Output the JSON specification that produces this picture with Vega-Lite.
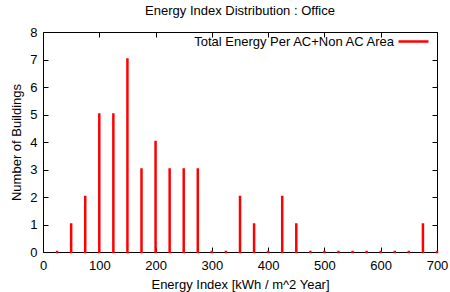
{
  "$schema": "https://vega.github.io/schema/vega-lite/v6.json",
  "width": 394,
  "height": 220,
  "autosize": {"type": "none"},
  "padding": {"left": 43, "top": 32, "right": 13, "bottom": 40},
  "background": "white",
  "title": {"text": "Energy Index Distribution : Office", "font": "Liberation Sans", "fontSize": 13, "fontWeight": "normal", "color": "#000", "offset": 7},
  "config": {
    "view": {"stroke": "#000", "strokeWidth": 1},
    "axis": {"labelFont": "Liberation Sans", "titleFont": "Liberation Sans", "labelFontSize": 13, "titleFontSize": 13, "titleFontWeight": "normal", "labelColor": "#000", "titleColor": "#000", "domain": false, "grid": false, "tickColor": "#000", "tickSize": -5, "labelFlush": false}
  },
  "data": {"values": [
    {"energy": 25, "count": 0},
    {"energy": 50, "count": 1},
    {"energy": 75, "count": 2},
    {"energy": 100, "count": 5},
    {"energy": 125, "count": 5},
    {"energy": 150, "count": 7},
    {"energy": 175, "count": 3},
    {"energy": 200, "count": 4},
    {"energy": 225, "count": 3},
    {"energy": 250, "count": 3},
    {"energy": 275, "count": 3},
    {"energy": 300, "count": 0},
    {"energy": 325, "count": 0},
    {"energy": 350, "count": 2},
    {"energy": 375, "count": 1},
    {"energy": 400, "count": 0},
    {"energy": 425, "count": 2},
    {"energy": 450, "count": 1},
    {"energy": 475, "count": 0},
    {"energy": 500, "count": 0},
    {"energy": 525, "count": 0},
    {"energy": 550, "count": 0},
    {"energy": 575, "count": 0},
    {"energy": 600, "count": 0},
    {"energy": 625, "count": 0},
    {"energy": 650, "count": 0},
    {"energy": 675, "count": 1},
    {"energy": 700, "count": 0}
  ]},
  "layer": [
    {
      "mark": {"type": "rule", "strokeWidth": 2.5, "strokeCap": "square"},
      "encoding": {
        "x": {"field": "energy", "type": "quantitative", "scale": {"domain": [0, 700], "nice": false, "padding": 0}, "axis": {"title": "Energy Index  [kWh / m^2 Year]", "values": [0,100,200,300,400,500,600,700], "labelPadding": 12, "titlePadding": 6}},
        "y": {"field": "count", "type": "quantitative", "scale": {"domain": [0, 8], "nice": false, "padding": 0}, "axis": {"title": "Number of Buildings", "values": [0,1,2,3,4,5,6,7,8], "labelPadding": 11, "titlePadding": 6}},
        "y2": {"datum": 0},
        "color": {"datum": "Total Energy Per AC+Non AC Area", "type": "nominal", "scale": {"range": ["#ff0000"]},
          "legend": {"title": null, "orient": "none", "legendX": 354, "legendY": -7, "symbolType": "stroke", "symbolSize": 900, "symbolStrokeWidth": 2.5, "labelFont": "Liberation Sans", "labelFontSize": 13, "labelColor": "#000", "labelAlign": "right", "labelOffset": -36, "labelLimit": 0, "padding": 0}}
      }
    },
    {
      "mark": {"type": "rule", "opacity": 0},
      "encoding": {
        "x": {"field": "energy", "type": "quantitative", "scale": {"domain": [0, 700], "nice": false, "padding": 0}, "axis": {"orient": "top", "labels": false, "title": null, "values": [0,100,200,300,400,500,600,700]}},
        "y": {"field": "count", "type": "quantitative", "scale": {"domain": [0, 8], "nice": false, "padding": 0}, "axis": {"orient": "right", "labels": false, "title": null, "values": [0,1,2,3,4,5,6,7,8]}}
      }
    }
  ],
  "resolve": {"axis": {"x": "independent", "y": "independent"}}
}
